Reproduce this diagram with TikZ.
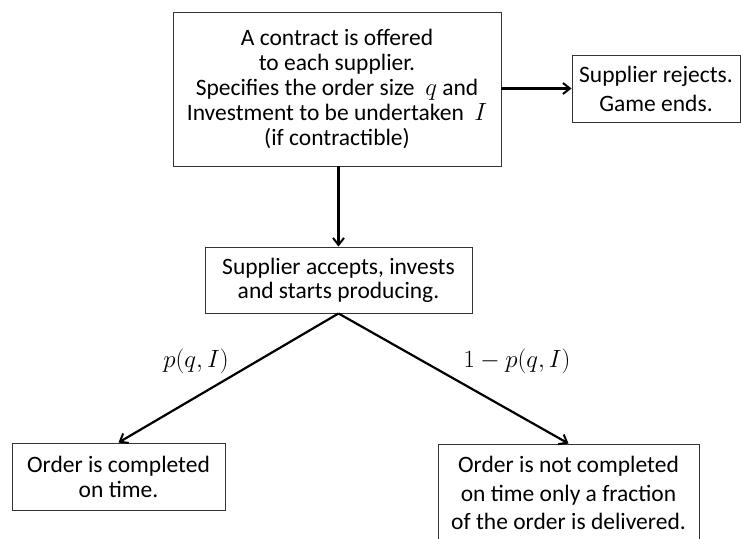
\documentclass[tikz,border=0pt]{standalone}
\usepackage[no-math]{fontspec}
\setmainfont{Carlito}
\usetikzlibrary{arrows.meta,calc}
\begin{document}
\begin{tikzpicture}[x=1pt,y=-1pt,
  box/.style={draw=black!80,line width=0.9pt,fill=white,align=center,inner sep=0pt},
  conn/.style={line width=2.2pt,-{Straight Barb[length=7pt,width=11pt,line width=2pt]}},
  lbl/.style={font=\fontsize{24}{24}\selectfont}]
\useasboundingbox (0,0) rectangle (741,538);
\clip (0,0) rectangle (741,538);
\node[box,minimum width=328pt,minimum height=154pt,font=\fontsize{23.5}{24.8}\selectfont] (top) at (337,89)
  {A contract is offered\\ to each supplier.\\ Specifies the order size \ $q$ and\\ Investment to be undertaken \ $I$\\ (if contractible)};
\node[box,minimum width=168pt,minimum height=67pt,font=\fontsize{23.5}{29}\selectfont] (rej) at (656,88.5)
  {Supplier rejects.\\ Game ends.};
\node[box,minimum width=267pt,minimum height=66pt,font=\fontsize{23.5}{24}\selectfont] (mid) at (338.5,280)
  {Supplier accepts, invests\\ and starts producing.};
\node[box,minimum width=213pt,minimum height=67pt,font=\fontsize{23.5}{25}\selectfont] (ok) at (118.5,476.5)
  {Order is completed\\ on time.};
\node[box,minimum width=261pt,minimum height=98pt,font=\fontsize{23.5}{28.5}\selectfont] (late) at (568.5,493)
  {Order is not completed\\ on time only a fraction\\ of the order is delivered.};
\draw[conn] (top.east |- rej.west) -- (rej.west);
\draw[conn] (mid.north |- top.south) -- (mid.north);
\draw[conn] (mid.south) -- (ok.north);
\draw[conn] (mid.south) -- (late.north);
\node[lbl] (pl) at (196,361) {$p(q,I)$};
\node[lbl] (pr) at (517,361) {$1-p(q,I)$};
\end{tikzpicture}
\end{document}
